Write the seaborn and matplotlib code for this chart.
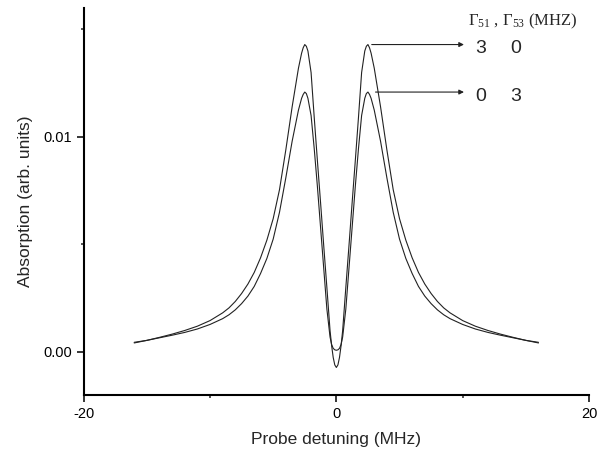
import numpy as np
import pandas as pd
import matplotlib
matplotlib.use("Agg")
import matplotlib.pyplot as plt
import seaborn as sns

# ---- data ----
detuning = [-16, -15, -14, -13, -12, -11, -10, -9, -8.5, -8, -7.5, -7, -6.5, -6, -5.5,
            -5, -4.5, -4, -3.5, -3, -2.75, -2.625, -2.5, -2.375, -2.25, -2, -1.75,
            -1.5, -1.25, -1, -0.75, -0.5, -0.375, -0.25, -0.125, 0,
            0.125, 0.25, 0.375, 0.5, 0.75, 1, 1.25, 1.5, 1.75, 2, 2.25, 2.375, 2.5,
            2.625, 2.75, 3, 3.5, 4, 4.5, 5, 5.5, 6, 6.5, 7, 7.5, 8, 8.5, 9, 10, 11,
            12, 13, 14, 15, 16]

# Gamma51 = 3, Gamma53 = 0 MHz
absorb_30 = [0.00042, 0.00054, 0.00068, 0.00083, 0.00100, 0.00120, 0.00146, 0.00182,
             0.00205, 0.00235, 0.00272, 0.00316, 0.00370, 0.00438, 0.00520,
             0.00620, 0.00755, 0.00940, 0.01140, 0.01320, 0.01390, 0.01415, 0.01430,
             0.01422, 0.01400, 0.01300, 0.01090,
             0.00890, 0.00695, 0.00495, 0.00300, 0.00100, 0.00030, -0.00025, -0.00060,
             -0.00072,
             -0.00060, -0.00025, 0.00030, 0.00100, 0.00300, 0.00495, 0.00695, 0.00890,
             0.01090, 0.01300, 0.01400, 0.01422, 0.01430,
             0.01415, 0.01390, 0.01320, 0.01140, 0.00940, 0.00755, 0.00620, 0.00520,
             0.00438, 0.00370, 0.00316, 0.00272, 0.00235, 0.00205, 0.00182, 0.00146,
             0.00120, 0.00100, 0.00083, 0.00068, 0.00054, 0.00042]

# Gamma51 = 0, Gamma53 = 3 MHz
absorb_03 = [0.00045, 0.00054, 0.00066, 0.00078, 0.00091, 0.00107, 0.00128, 0.00155,
             0.00173, 0.00196, 0.00225, 0.00260, 0.00305, 0.00365, 0.00435,
             0.00525, 0.00650, 0.00810, 0.00980, 0.01125, 0.01180, 0.01198, 0.01209,
             0.01202, 0.01180, 0.01100, 0.00945,
             0.00770, 0.00580, 0.00390, 0.00200, 0.00070, 0.00035, 0.00017, 0.00010,
             0.00008,
             0.00010, 0.00017, 0.00035, 0.00070, 0.00200, 0.00390, 0.00580, 0.00770,
             0.00945, 0.01100, 0.01180, 0.01202, 0.01209,
             0.01198, 0.01180, 0.01125, 0.00980, 0.00810, 0.00650, 0.00525, 0.00435,
             0.00365, 0.00305, 0.00260, 0.00225, 0.00196, 0.00173, 0.00155, 0.00128,
             0.00107, 0.00091, 0.00078, 0.00066, 0.00054, 0.00045]

series_names = ["3 0", "0 3"]
label_pairs = [("3", "0"), ("0", "3")]
x_ticks = [-20, 0, 20]
y_ticks = [0.0, 0.01]
y_tick_labels = ["0.00", "0.01"]

df = pd.DataFrame({
    "x": detuning * 2,
    "y": absorb_30 + absorb_03,
    "series": [series_names[0]] * len(detuning) + [series_names[1]] * len(detuning),
})

sns.set_style("ticks")
plt.rcParams["font.family"] = ["Liberation Sans", "DejaVu Sans"]
plt.rcParams["mathtext.fontset"] = "custom"
plt.rcParams["mathtext.rm"] = "Liberation Serif"
plt.rcParams["mathtext.it"] = "Liberation Serif:italic"

fig = plt.figure(figsize=(6.05, 4.57), dpi=100)
ax = fig.add_axes([0.1383, 0.1357, 0.8353, 0.8468])

sns.lineplot(data=df, x="x", y="y", hue="series", palette=["#222222", "#222222"],
             linewidth=0.8, legend=False, ax=ax, sort=False, estimator=None)

ax.set_xlim(-20, 20)
ax.set_ylim(-0.002, 0.016)
ax.set_xticks(x_ticks)
ax.set_xticklabels([str(t) for t in x_ticks])
ax.set_xticks([-10, 10], minor=True)
ax.set_yticks(y_ticks)
ax.set_yticklabels(y_tick_labels)
ax.set_yticks([0.005, 0.015], minor=True)

sns.despine(ax=ax)
for s in ["left", "bottom"]:
    ax.spines[s].set_linewidth(1.5)
    ax.spines[s].set_color("black")
ax.tick_params(which="major", direction="out", length=5, width=1.1, labelsize=10.5,
               colors="black", pad=3.5)
ax.tick_params(which="minor", direction="out", length=2.5, width=1.1)

ax.set_xlabel("Probe detuning (MHz)", fontsize=12.5)
ax.set_ylabel("Absorption (arb. units)", fontsize=12.5)
ax.xaxis.set_label_coords(0.5, -0.095)
ax.yaxis.set_label_coords(-0.100, 0.5)

# arrows and labels
peaks = [max(absorb_30), max(absorb_03)]
starts = [2.8, 3.1]
for pk, st, (a, b) in zip(peaks, starts, label_pairs):
    ax.annotate("", xy=(10.1, pk), xytext=(st, pk),
                arrowprops=dict(arrowstyle="-|>", lw=0.8, color="#222222",
                                mutation_scale=7, shrinkA=0, shrinkB=0))
    ax.text(11.0, pk - 0.0002, a, fontsize=14, ha="left", va="center")
    ax.text(13.75, pk - 0.0002, b, fontsize=14, ha="left", va="center")

ax.text(10.45, 0.01537, r"$\Gamma_{51}$ , $\Gamma_{53}$ (MHZ)", fontsize=12,
        ha="left", va="center", family="Liberation Serif")

fig.savefig("out.png", dpi=100)
